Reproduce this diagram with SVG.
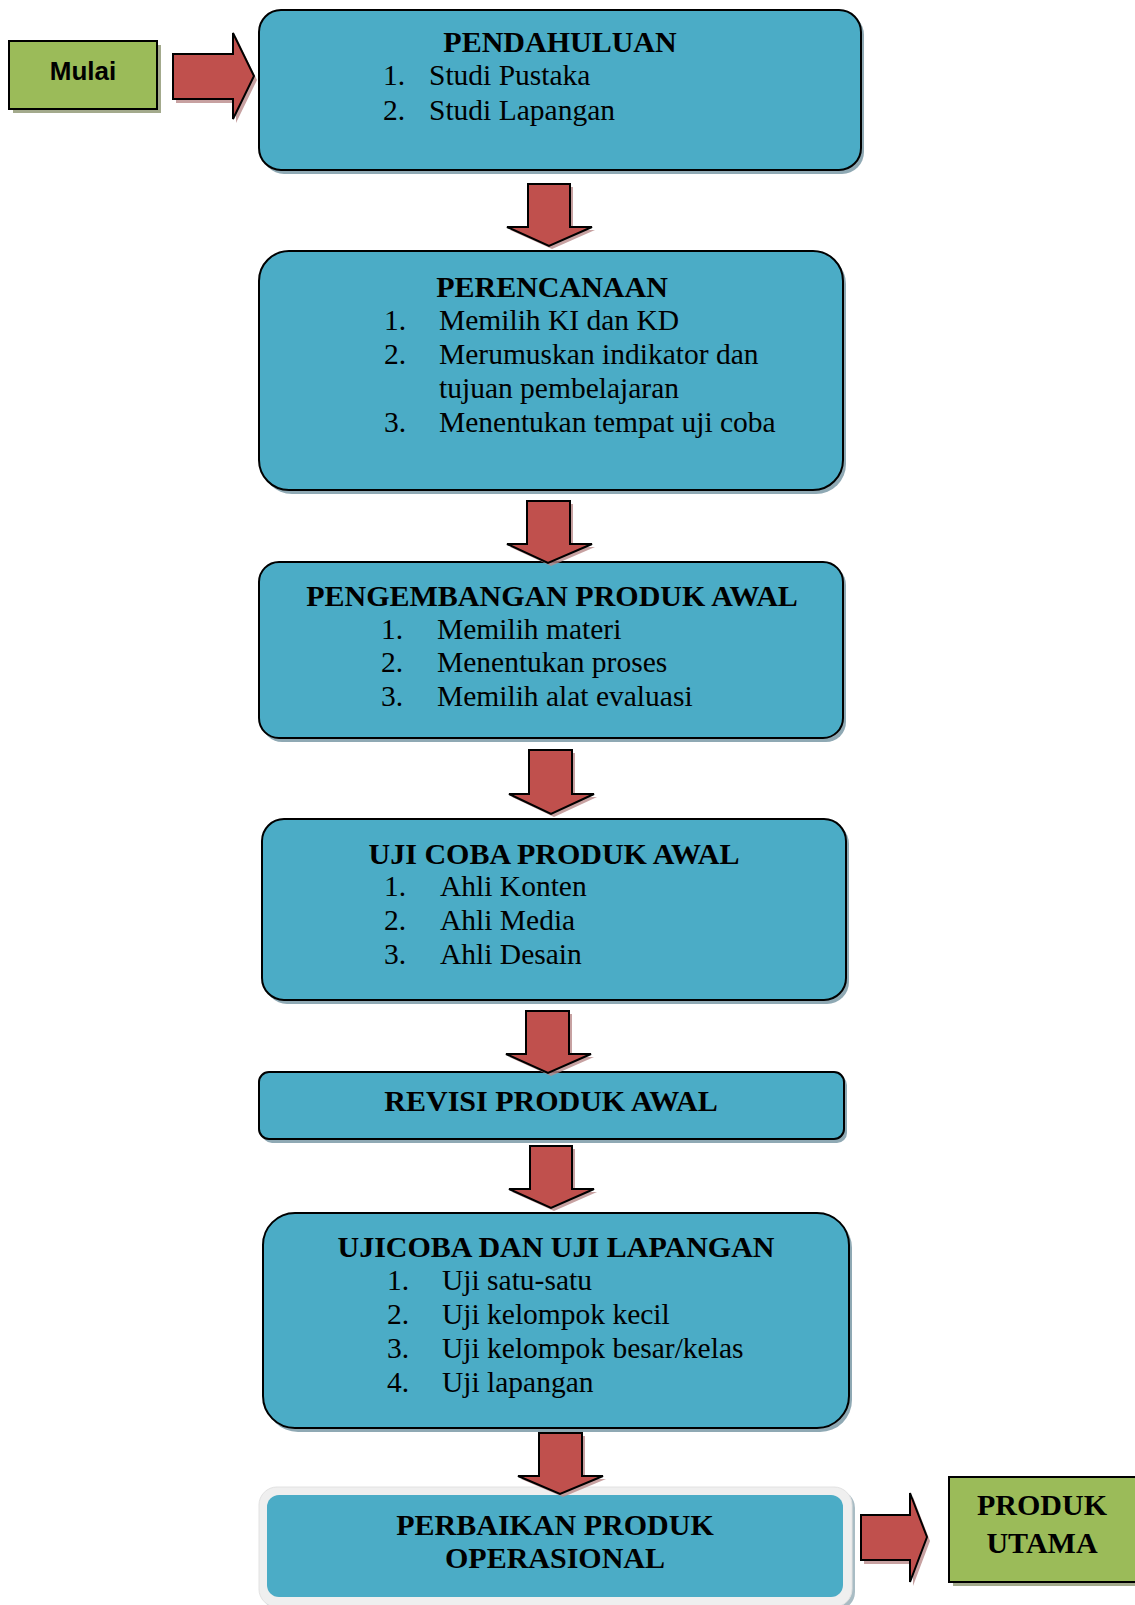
<svg xmlns="http://www.w3.org/2000/svg" width="1135" height="1605" viewBox="0 0 1135 1605">
<defs>
<style>
.box{fill:#4BACC6;stroke:#000;stroke-width:2}
.bsh{fill:#8FA9B4}
.arr{fill:#C0504D;stroke:#000;stroke-width:2;stroke-linejoin:miter}
.ash{fill:#B98A8A;opacity:0.8}
.grn{fill:#9BBB59;stroke:#000;stroke-width:2}
.gsh{fill:#A3AA8C}
.t{font-family:"Liberation Serif","Times New Roman",serif;font-weight:bold;font-size:30px;fill:#000}
.i{font-family:"Liberation Serif","Times New Roman",serif;font-size:29.5px;fill:#000}
.m{font-family:"Liberation Sans",Arial,sans-serif;font-weight:bold;font-size:26px;fill:#000}
</style>
</defs>
<rect width="1135" height="1605" fill="#fff"/>

<g id="mulai">
  <rect class="gsh" x="13" y="45" width="148" height="68"/>
  <rect class="grn" x="9" y="41" width="148" height="68"/>
  <text class="m" x="83" y="80" text-anchor="middle">Mulai</text>
</g>

<g id="pendahuluan">
  <rect class="bsh" x="262" y="13" width="602" height="161" rx="22"/>
  <rect class="box" x="259" y="10" width="602" height="160" rx="22"/>
  <text class="t" x="560" y="52" text-anchor="middle">PENDAHULUAN</text>
  <text class="i" x="383" y="85">1.</text><text class="i" x="429" y="85">Studi Pustaka</text>
  <text class="i" x="383" y="120">2.</text><text class="i" x="429" y="120">Studi Lapangan</text>
</g>

<g id="perencanaan">
  <rect class="bsh" x="262" y="254" width="584" height="240" rx="30"/>
  <rect class="box" x="259" y="251" width="584" height="239" rx="30"/>
  <text class="t" x="552" y="297" text-anchor="middle">PERENCANAAN</text>
  <text class="i" x="384" y="330">1.</text><text class="i" x="439" y="330">Memilih KI dan KD</text>
  <text class="i" x="384" y="364">2.</text><text class="i" x="439" y="364">Merumuskan indikator dan</text>
  <text class="i" x="439" y="398">tujuan pembelajaran</text>
  <text class="i" x="384" y="432">3.</text><text class="i" x="439" y="432">Menentukan tempat uji coba</text>
</g>

<g id="pengembangan">
  <rect class="bsh" x="262" y="565" width="584" height="177" rx="20"/>
  <rect class="box" x="259" y="562" width="584" height="176" rx="20"/>
  <text class="t" x="552" y="606" text-anchor="middle">PENGEMBANGAN PRODUK AWAL</text>
  <text class="i" x="381" y="639">1.</text><text class="i" x="437" y="639">Memilih materi</text>
  <text class="i" x="381" y="672">2.</text><text class="i" x="437" y="672">Menentukan proses</text>
  <text class="i" x="381" y="706">3.</text><text class="i" x="437" y="706">Memilih alat evaluasi</text>
</g>

<g id="ujicoba-produk-awal">
  <rect class="bsh" x="265" y="822" width="584" height="182" rx="22"/>
  <rect class="box" x="262" y="819" width="584" height="181" rx="22"/>
  <text class="t" x="554" y="864" text-anchor="middle">UJI COBA PRODUK AWAL</text>
  <text class="i" x="384" y="896">1.</text><text class="i" x="440" y="896">Ahli Konten</text>
  <text class="i" x="384" y="930">2.</text><text class="i" x="440" y="930">Ahli Media</text>
  <text class="i" x="384" y="964">3.</text><text class="i" x="440" y="964">Ahli Desain</text>
</g>

<g id="revisi">
  <rect class="bsh" x="262" y="1075" width="585" height="68" rx="10"/>
  <rect class="box" x="259" y="1072" width="585" height="67" rx="10"/>
  <text class="t" x="551" y="1111" text-anchor="middle">REVISI PRODUK AWAL</text>
</g>

<g id="ujicoba-lapangan">
  <rect class="bsh" x="266" y="1216" width="586" height="216" rx="32"/>
  <rect class="box" x="263" y="1213" width="586" height="215" rx="32"/>
  <text class="t" x="556" y="1257" text-anchor="middle">UJICOBA DAN UJI LAPANGAN</text>
  <text class="i" x="387" y="1290">1.</text><text class="i" x="442" y="1290">Uji satu-satu</text>
  <text class="i" x="387" y="1324">2.</text><text class="i" x="442" y="1324">Uji kelompok kecil</text>
  <text class="i" x="387" y="1358">3.</text><text class="i" x="442" y="1358">Uji kelompok besar/kelas</text>
  <text class="i" x="387" y="1392">4.</text><text class="i" x="442" y="1392">Uji lapangan</text>
</g>

<g id="perbaikan">
  <rect x="262" y="1490" width="593" height="120" rx="18" fill="#A9BCC4"/>
  <rect x="259" y="1487" width="593" height="120" rx="18" fill="#EFEFEF" stroke="#E2E2E2" stroke-width="1"/>
  <rect x="267" y="1495" width="576" height="102" rx="12" fill="#4BACC6"/>
  <text class="t" x="555" y="1535" text-anchor="middle">PERBAIKAN PRODUK</text>
  <text class="t" x="555" y="1568" text-anchor="middle">OPERASIONAL</text>
</g>

<g id="produk-utama">
  <rect class="gsh" x="953" y="1481" width="190" height="105"/>
  <rect class="grn" x="949" y="1477" width="190" height="105"/>
  <text class="t" x="1042" y="1515" text-anchor="middle">PRODUK</text>
  <text class="t" x="1042" y="1553" text-anchor="middle">UTAMA</text>
</g>

<g id="connectors">
  <polygon class="ash" points="176,58 236,58 236,37 257,80 236,123 236,103 176,103"/>
  <polygon class="arr" points="173,54 233,54 233,33 254,76 233,119 233,99 173,99"/>

  <polygon class="ash" points="531,187 573,187 573,230 595,230 552,249 510,230 531,230"/>
  <polygon class="arr" points="528,184 570,184 570,227 592,227 549,246 507,227 528,227"/>

  <polygon class="ash" points="530,504 573,504 573,547 595,547 551,566 510,547 530,547"/>
  <polygon class="arr" points="527,501 570,501 570,544 592,544 548,563 507,544 527,544"/>

  <polygon class="ash" points="532,753 575,753 575,797 597,797 554,817 512,797 532,797"/>
  <polygon class="arr" points="529,750 572,750 572,794 594,794 551,814 509,794 529,794"/>

  <polygon class="ash" points="529,1014 572,1014 572,1057 594,1057 551,1076 509,1057 529,1057"/>
  <polygon class="arr" points="526,1011 569,1011 569,1054 591,1054 548,1073 506,1054 526,1054"/>

  <polygon class="ash" points="533,1149 575,1149 575,1192 597,1192 554,1211 512,1192 533,1192"/>
  <polygon class="arr" points="530,1146 572,1146 572,1189 594,1189 551,1208 509,1189 530,1189"/>

  <polygon class="ash" points="542,1436 585,1436 585,1479 606,1479 563,1497 521,1479 542,1479"/>
  <polygon class="arr" points="539,1433 582,1433 582,1476 603,1476 560,1494 518,1476 539,1476"/>

  <polygon class="ash" points="864,1519 913,1519 913,1497 930,1541 913,1586 913,1564 864,1564"/>
  <polygon class="arr" points="861,1515 910,1515 910,1493 927,1537 910,1582 910,1560 861,1560"/>
</g>
</svg>
